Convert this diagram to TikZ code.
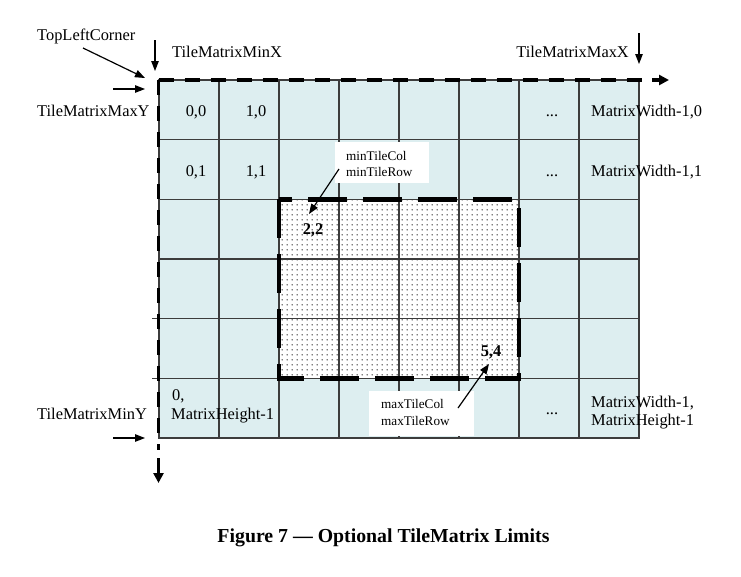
\documentclass[tikz,border=0pt]{standalone}
\usepackage{fontspec}
\setmainfont{Liberation Serif}
\usetikzlibrary{arrows.meta,patterns.meta}
\tikzdeclarepattern{
  name=finedots,
  type=uncolored,
  bounding box={(0pt,0pt) and (5pt,5pt)},
  tile size={(5pt,5pt)},
  code={\fill (2.5pt,2.5pt) circle (0.8pt);}
}
\definecolor{cellfill}{RGB}{221,238,240}
\definecolor{gridgray}{RGB}{60,60,60}
\tikzset{
  lbl/.style={font=\fontsize{16.4}{19}\selectfont, inner sep=0pt},
  smalllbl/.style={font=\fontsize{13.2}{15}\selectfont, inner sep=0pt},
  boldlbl/.style={font=\bfseries\fontsize{16.4}{19}\selectfont, inner sep=0pt},
  ptr/.style={line width=1.2pt, -{Triangle[length=10pt,width=7.5pt]}},
  gridline/.style={line width=1.1pt, draw=gridgray},
  outerdash/.style={line width=3.5pt, dash pattern=on 15pt off 11pt},
  innerdash/.style={line width=4.5pt, dash pattern=on 39pt off 16pt},
  thicktip/.style={line width=3.5pt, -{Triangle[length=10pt,width=10pt]}},
  whitebox/.style={fill=white, draw=none, inner sep=0pt, anchor=north west}
}
\begin{document}
\begin{tikzpicture}[x=1pt,y=-1pt]
\useasboundingbox (0,0) rectangle (741,576);
\fill[white] (0,0) rectangle (741,576);
% cells
\fill[cellfill] (159,80) rectangle (639,438);
\fill[white] (279,199.3) rectangle (519,378.3);
\fill[pattern=finedots, pattern color=black] (279,199.3) rectangle (519,378.3);
% grid lines
\foreach \i in {1,...,7} \draw[gridline] ({159+60*\i},80) -- ({159+60*\i},438);
\foreach \y in {139.7,199.3,259} \draw[gridline] (159,\y) -- (639,\y);
\foreach \y in {318.7,378.3} \draw[gridline] (152,\y) -- (639,\y);
\draw[gridline] (159,80) rectangle (639,438);
% outer dashed axes
\coordinate (origin) at (158.5,80);
\coordinate (xend) at (646,80);
\coordinate (yend) at (158.5,450);
\draw[outerdash] (origin) -- (xend);
\draw[outerdash] (origin) -- (yend);
\coordinate (xa) at (652,80);
\coordinate (xb) at (669,80);
\draw[thicktip] (xa) -- (xb);
\coordinate (ya) at (158.5,458);
\coordinate (yb) at (158.5,483);
\draw[thicktip] (ya) -- (yb);
% inner dashed rectangle
\draw[innerdash] (279,199.3) rectangle (519,378.3);
% label boxes
\node[whitebox, minimum width=94pt, minimum height=41pt] (minbox) at (335,142) {};
\node[whitebox, minimum width=105pt, minimum height=45pt] (maxbox) at (369,391) {};
% texts
\node[lbl, anchor=base west] (tlc) at (37,40) {TopLeftCorner};
\node[lbl, anchor=base west] (minx) at (172,57) {TileMatrixMinX};
\node[lbl, anchor=base east] (maxx) at (629,57) {TileMatrixMaxX};
\node[lbl, anchor=base west] (maxy) at (37,116) {TileMatrixMaxY};
\node[lbl, anchor=base west] (miny) at (37,419) {TileMatrixMinY};
\node[lbl, anchor=base] (c00) at (196,116) {0,0};
\node[lbl, anchor=base] (c10) at (256,116) {1,0};
\node[lbl, anchor=base] (c01) at (196,176) {0,1};
\node[lbl, anchor=base] (c11) at (256,176) {1,1};
\node[lbl, anchor=base] (d0) at (552,116) {...};
\node[lbl, anchor=base] (d1) at (552,176) {...};
\node[lbl, anchor=base] (d5) at (552,414) {...};
\node[lbl, anchor=base west] (w0) at (591,116) {MatrixWidth-1,0};
\node[lbl, anchor=base west] (w1) at (591,176) {MatrixWidth-1,1};
\node[lbl, anchor=base west] (h0a) at (172,400) {0,};
\node[lbl, anchor=base west] (h0b) at (171,419) {MatrixHeight-1};
\node[lbl, anchor=base west] (wha) at (591,407) {MatrixWidth-1,};
\node[lbl, anchor=base west] (whb) at (591,425) {MatrixHeight-1};
\node[smalllbl, anchor=base west] (mincol) at (346,160) {minTileCol};
\node[smalllbl, anchor=base west] (minrow) at (346,176) {minTileRow};
\node[smalllbl, anchor=base west] (maxcol) at (381,408) {maxTileCol};
\node[smalllbl, anchor=base west] (maxrow) at (381,425) {maxTileRow};
\node[boldlbl, anchor=base] (c22) at (313,234) {2,2};
\node[boldlbl, anchor=base] (c54) at (491,356) {5,4};
\node[font=\bfseries\fontsize{19.8}{23}\selectfont, inner sep=0pt, anchor=base] (cap) at (383.5,542) {Figure 7 — Optional TileMatrix Limits};
% pointer arrows
\coordinate (tlcA) at (83,48);
\coordinate (tlcB) at (145,78);
\draw[ptr] (tlcA) -- (tlcB);
\coordinate (mxA) at (155,40);
\coordinate (mxB) at (155,71);
\draw[ptr] (mxA) -- (mxB);
\coordinate (myA) at (113,89);
\coordinate (myB) at (145,89);
\draw[ptr] (myA) -- (myB);
\coordinate (MxA) at (639,33);
\coordinate (MxB) at (639,64);
\draw[ptr] (MxA) -- (MxB);
\coordinate (nyA) at (113,438);
\coordinate (nyB) at (145,438);
\draw[ptr] (nyA) -- (nyB);
\coordinate (minA) at (339,169);
\coordinate (minB) at (309,214);
\draw[ptr] (minA) -- (minB);
\coordinate (maxA) at (458,408);
\coordinate (maxB) at (489,364);
\draw[ptr] (maxA) -- (maxB);
\end{tikzpicture}
\end{document}
